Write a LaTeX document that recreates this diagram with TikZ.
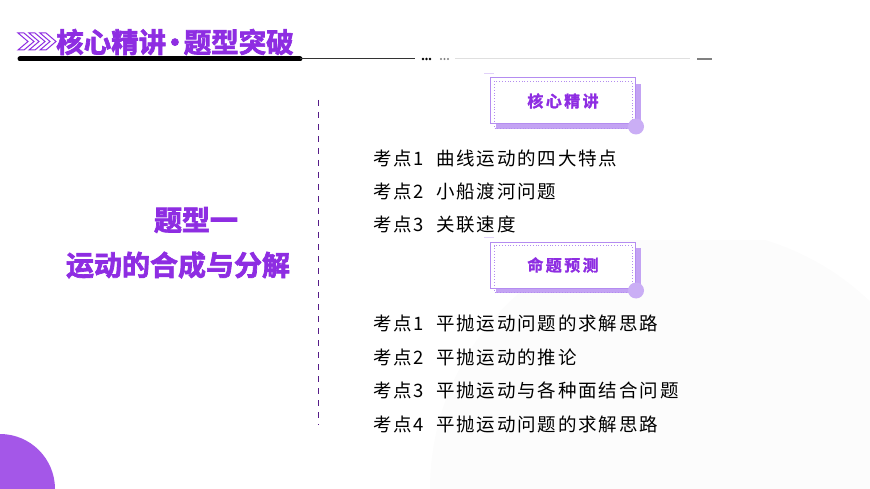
\documentclass[tikz,border=0pt]{standalone}
\usepackage{fontspec}
\newfontfamily\cjk[LetterSpace=10]{Noto Sans CJK SC}
\newfontfamily\cjkb[FakeBold=2.5]{Noto Sans CJK SC Bold}
\newfontfamily\cjkt[FakeBold=1.5,LetterSpace=15]{Noto Sans CJK SC Bold}
\definecolor{pur}{HTML}{8E2DE2}
\definecolor{lpur}{HTML}{B48CF0}
\begin{document}
\begin{tikzpicture}[x=1pt,y=-1pt,
  item/.style={anchor=west,font=\cjk\fontsize{18.5}{18.5}\selectfont,inner sep=0},
  tagbox/.style={draw=lpur,line width=1pt,fill=white,minimum width=145,minimum height=46,font=\cjkt\fontsize{16}{16}\selectfont,text=pur}]
\useasboundingbox (0,0) rectangle (870,489);
\fill[gray!2] (690,489) circle (260);
\fill[white] (0,0) rectangle (870,240);
\fill[pur!80] (0,489) circle (55);
% chevrons
\foreach \i in {0,11,22}{
  \draw[pur,line width=1pt] (18+\i,33) -- (28+\i,41.5) -- (18+\i,50) -- (24+\i,50) -- (34+\i,41.5) -- (24+\i,33) -- cycle;}
\node[anchor=west,font=\cjkb\fontsize{27.5}{27.5}\selectfont,text=pur,inner sep=0] (title) at (56,42) {核心精讲{\kern-5pt}•{\kern-5pt}题型突破};
\draw[line width=5pt,line cap=round] (20,59) -- (300,59);
\draw[line width=1pt,black!80] (300,59) -- (415,59);
\foreach \x in {423,426.5,430}{\fill (\x,59) circle (1.3);}
\foreach \x in {441,444.5,448}{\fill[gray] (\x,59) circle (1.1);}
\draw[line width=1pt,gray!25] (455,59) -- (690,59);
\draw[line width=2.5pt,gray] (697,59) -- (712,59);
% divider
\draw[pur!60!black,line width=1pt,dash pattern=on 6pt off 6pt] (318,100) -- (318,425);
\node[font=\cjkb\fontsize{28}{28}\selectfont,text=pur] (t1) at (196,220) {题型一};
\node[font=\cjkb\fontsize{28}{28}\selectfont,text=pur] (t2) at (178,265) {运动的合成与分解};
% tag boxes
\foreach \y/\t/\n in {101/核心精讲/b1,265/命题预测/b2}{
  \fill[lpur!80] (496,\y-17) rectangle (641,\y+28);
  \node[tagbox] (\n) at (563,\y) {\t};
  \draw[lpur,dotted,line width=0.8pt] (\n.north west)++(4,4) rectangle ([xshift=-4,yshift=-4]\n.south east);
  \fill[lpur!70] (\n.south east)++(0,2) circle (8);
  \draw[lpur!40,line width=1pt] (\n.north west)++(-6,-4) -- ++(10,0);
}
\node[item] (a1) at (373,158) {考点1\hspace{12pt}曲线运动的四大特点};
\node[item] (a2) at (373,191) {考点2\hspace{12pt}小船渡河问题};
\node[item] (a3) at (373,224) {考点3\hspace{12pt}关联速度};
\node[item] (c1) at (373,323) {考点1\hspace{12pt}平抛运动问题的求解思路};
\node[item] (c2) at (373,357) {考点2\hspace{12pt}平抛运动的推论};
\node[item] (c3) at (373,390) {考点3\hspace{12pt}平抛运动与各种面结合问题};
\node[item] (c4) at (373,424) {考点4\hspace{12pt}平抛运动问题的求解思路};
\end{tikzpicture}
\end{document}
